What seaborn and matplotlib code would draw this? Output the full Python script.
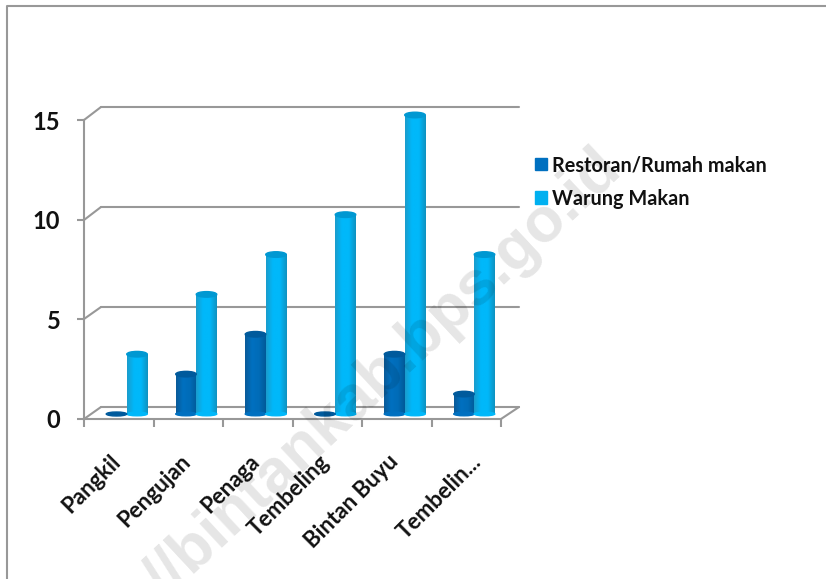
import numpy as np
import pandas as pd
import matplotlib
matplotlib.use('Agg')
import matplotlib.pyplot as plt
import seaborn as sns
from matplotlib.colors import LinearSegmentedColormap
from matplotlib.lines import Line2D
from matplotlib.patches import Ellipse, Patch, Rectangle
from matplotlib.transforms import ScaledTranslation

WIDTH, HEIGHT = 826, 579
GREY = '#989898'

categories = ['Pangkil', 'Pengujan', 'Penaga', 'Tembeling', 'Bintan Buyu', 'Tembelin...']
restoran = [0, 2, 4, 0, 3, 1]
warung = [3, 6, 8, 10, 15, 8]
series_names = ['Restoran/Rumah makan', 'Warung Makan']
series_colors = ['#0070c0', '#00b0f0']
y_ticks = [0, 5, 10, 15]
watermark = 'http://bintankab.bps.go.id'

# shading across a cylinder, left to right, and the colour of its top
shades = {
    series_names[0]: (['#0a5a98', '#0070c0', '#006cb8', '#005a98'], '#005a9c'),
    series_names[1]: (['#1a9ccc', '#00b8fa', '#00b8fa', '#0f92c0'], '#0098d2'),
}


def px_axes(fig, left, top, right, bottom):
    """Add axes using pixel coordinates measured from the top left."""
    return fig.add_axes([left / WIDTH, 1 - bottom / HEIGHT,
                         (right - left) / WIDTH, (bottom - top) / HEIGHT])


def px_line(fig, xs, ys, **kwargs):
    fig.add_artist(Line2D([x / WIDTH for x in xs], [1 - y / HEIGHT for y in ys],
                          color=GREY, lw=1.5, solid_capstyle='round', **kwargs))


def shade_bars(ax):
    """Turn the flat seaborn bars into cylinders."""
    for name, container in zip(series_names, ax.containers):
        colors, top_color = shades[name]
        cmap = LinearSegmentedColormap.from_list(name, colors)
        gradient = np.linspace(0, 1, 64).reshape(1, -1)
        for bar in container:
            x, w, h = bar.get_x(), bar.get_width(), bar.get_height()
            if h > 0:
                ax.imshow(gradient, cmap=cmap, aspect='auto', zorder=3,
                          extent=(x, x + w, 0, h), clip_on=False)
                ax.add_patch(Ellipse((x + w / 2, 0), w, 0.18, color=colors[1],
                                     zorder=3, clip_on=False))
            ax.add_patch(Ellipse((x + w / 2, h), w, 0.28 if h > 0 else 0.2,
                                 color=top_color, zorder=3.1, clip_on=False))


def main():
    sns.set_theme(style='white')
    plt.rcParams['font.family'] = ['Lato', 'DejaVu Sans']

    data = pd.DataFrame({
        'category': categories * 2,
        'series': [series_names[0]] * 6 + [series_names[1]] * 6,
        'value': restoran + warung,
    })

    fig = plt.figure(figsize=(WIDTH / 100, HEIGHT / 100), dpi=100, facecolor='white')

    # back wall with the gridlines
    back = px_axes(fig, 101, 107, 519, 407)
    back.set_ylim(0, 15)
    back.set_yticks(y_ticks)
    back.set_xticks([])
    back.grid(axis='y', color=GREY, lw=1.5, clip_on=False)
    back.tick_params(left=False, labelleft=False)
    sns.despine(ax=back, left=True, bottom=True)
    back.patch.set_alpha(0)

    # front axis carries the ticks and labels
    front = px_axes(fig, 84, 120, 501, 419)
    front.patch.set_alpha(0)
    front.set_xlim(-0.5, 5.5)
    front.set_ylim(0, 15)
    front.set_yticks(y_ticks)
    front.set_xticks(range(len(categories)))
    front.set_xticklabels(categories, rotation=45, ha='right', va='top',
                          rotation_mode='anchor', fontsize=16, fontweight='bold',
                          color='#111111')
    front.set_xticks(np.arange(-0.5, 6), minor=True)
    front.tick_params(axis='x', which='major', length=0, pad=23)
    front.tick_params(axis='x', which='minor', length=6, width=1.5, color=GREY, bottom=True)
    front.tick_params(axis='y', length=5, width=1.5, color=GREY, pad=12, left=True,
                      labelsize=17, labelcolor='#111111')
    for label in front.get_yticklabels():
        label.set_fontweight('bold')
    shift = ScaledTranslation(-9 / 100, 0, fig.dpi_scale_trans)
    for label in front.get_xticklabels():
        label.set_transform(label.get_transform() + shift)
    # the truncated last label sits further right in the original
    last = front.get_xticklabels()[-1]
    last.set_transform(last.get_transform() + ScaledTranslation(13 / 100, 0, fig.dpi_scale_trans))
    sns.despine(ax=front)
    for side in ('left', 'bottom'):
        front.spines[side].set_color(GREY)
        front.spines[side].set_linewidth(1.5)

    # bars stand halfway between the front axis and the back wall
    ax = px_axes(fig, 92, 115, 509, 414)
    ax.patch.set_alpha(0)
    sns.barplot(data=data, x='category', y='value', hue='series', ax=ax,
                palette=series_colors, width=0.59, gap=0, saturation=1, legend=False)
    shade_bars(ax)
    for bar in ax.patches:
        if isinstance(bar, Rectangle):
            bar.set_visible(False)
    ax.set_xlim(-0.5, 5.5)
    ax.set_ylim(0, 15)
    ax.axis('off')

    # floor and wall edges
    for y_front, y_back in zip([419, 319, 220, 120], [407, 307, 207, 107]):
        px_line(fig, [84, 101], [y_front, y_back])
    px_line(fig, [501, 519], [419, 407])

    handles = [Patch(color=c) for c in series_colors]
    legend = fig.legend(handles, series_names, loc='upper left',
                        bbox_to_anchor=(535 / WIDTH, 1 - 155 / HEIGHT),
                        frameon=False, fontsize=14.3, handlelength=0.62, handleheight=0.62,
                        handletextpad=0.22, labelspacing=0.68, borderpad=0, borderaxespad=0)
    for text in legend.get_texts():
        text.set_fontweight('bold')
        text.set_color('#111111')

    # outer frame of the chart area
    px_line(fig, [7, 7, 826], [579, 6, 6])

    fig.text(612 / WIDTH, 1 - 158 / HEIGHT, watermark, rotation=43, ha='right', va='center',
             rotation_mode='anchor', fontsize=45, fontweight='bold',
             family='Liberation Sans', color='black', alpha=0.1, zorder=10)

    fig.savefig('out.png', dpi=100)
    plt.close(fig)


if __name__ == '__main__':
    main()
